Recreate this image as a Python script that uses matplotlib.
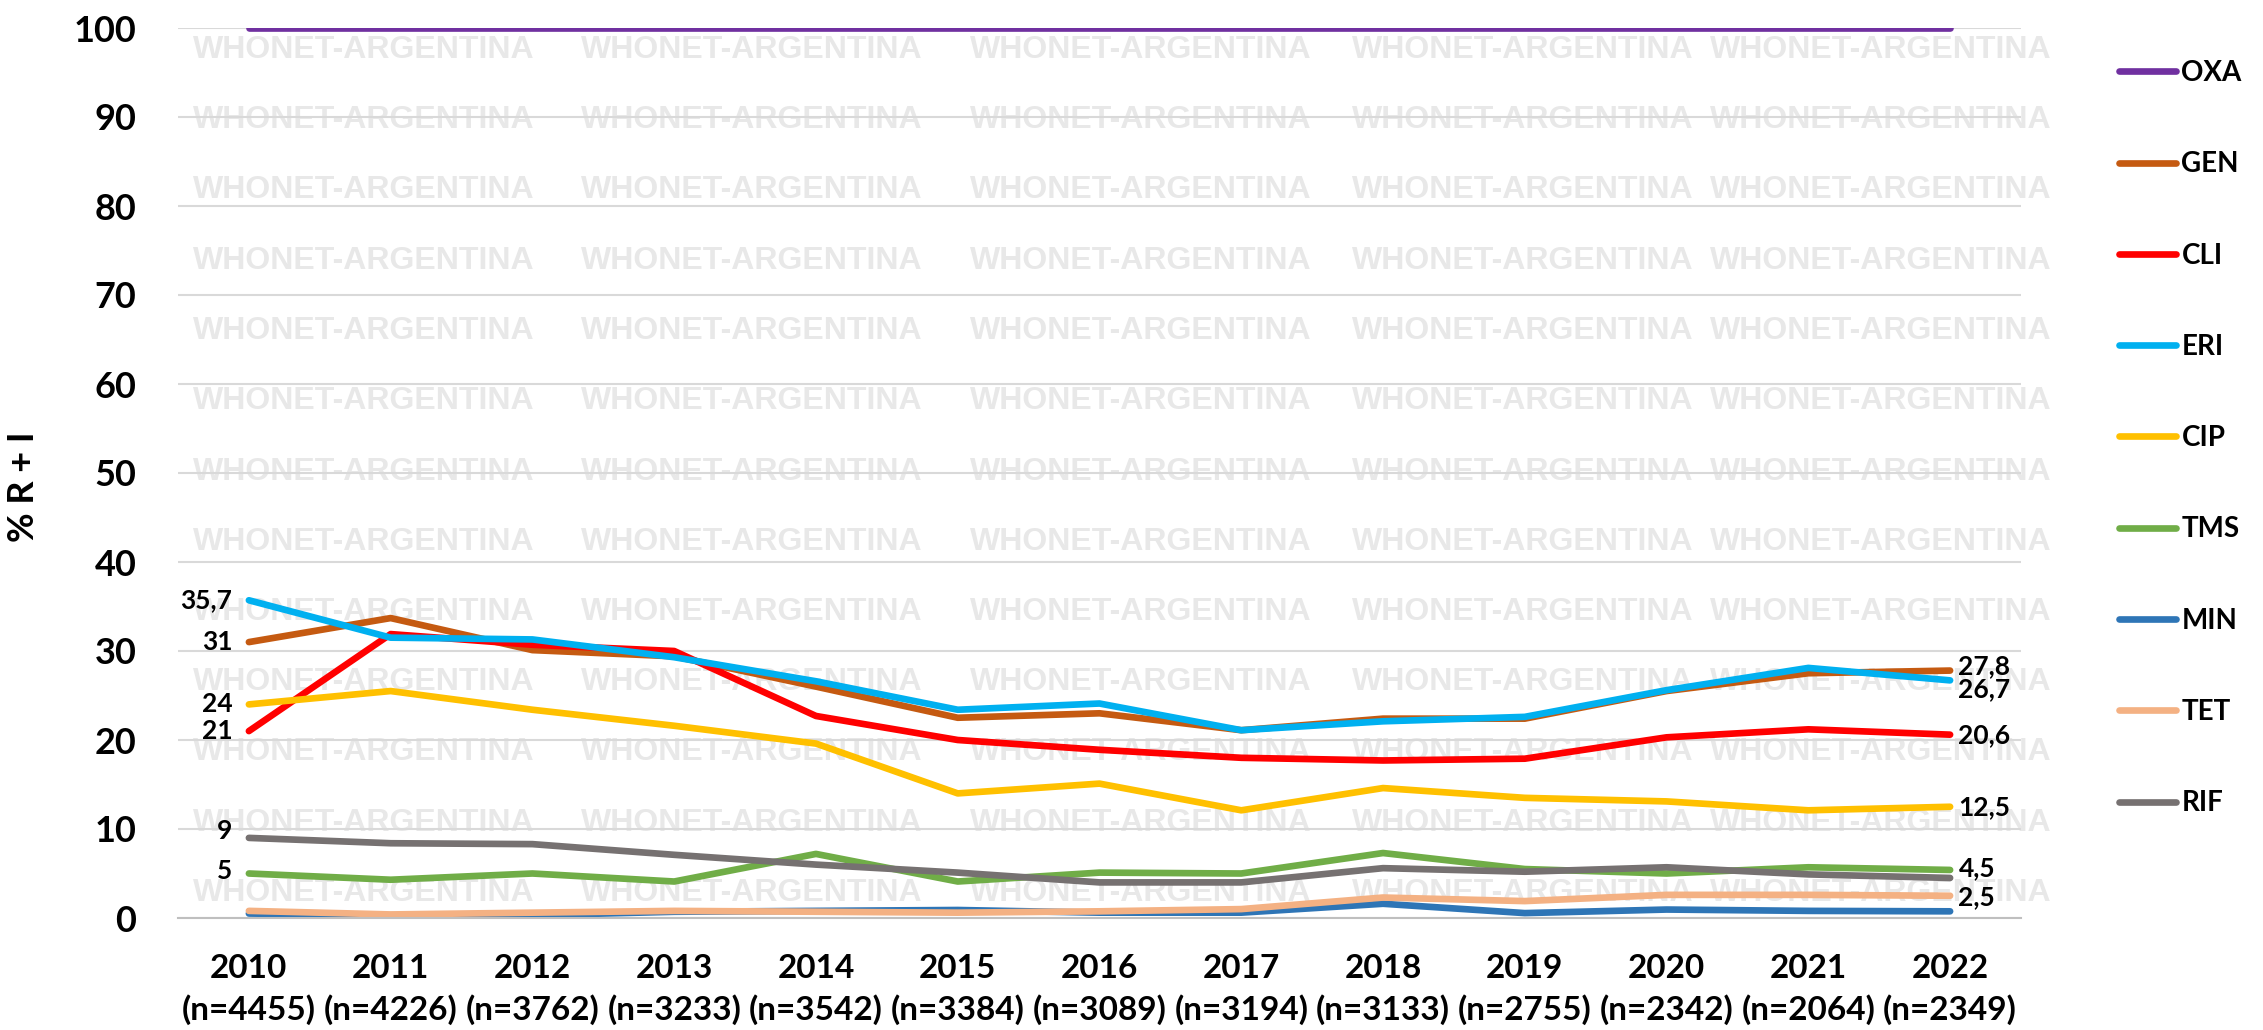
import matplotlib
matplotlib.use("Agg")
import matplotlib.pyplot as plt
import numpy as np

plt.rcParams['font.family'] = ['Lato', 'DejaVu Sans']

# datos
years = ['2010', '2011', '2012', '2013', '2014', '2015', '2016',
         '2017', '2018', '2019', '2020', '2021', '2022']
n_vals = [4455, 4226, 3762, 3233, 3542, 3384, 3089, 3194, 3133, 2755, 2342, 2064, 2349]

oxa = [100, 100, 100, 100, 100, 100, 100, 100, 100, 100, 100, 100, 100]
gen = [31.0, 33.7, 30.1, 29.4, 26.0, 22.5, 23.0, 21.1, 22.4, 22.4, 25.5, 27.5, 27.8]
cli = [21.0, 31.9, 30.7, 30.0, 22.7, 20.0, 18.9, 18.0, 17.7, 17.9, 20.3, 21.2, 20.6]
eri = [35.7, 31.5, 31.3, 29.3, 26.6, 23.4, 24.1, 21.1, 22.1, 22.6, 25.6, 28.1, 26.7]
cip = [24.0, 25.5, 23.4, 21.6, 19.6, 14.0, 15.1, 12.1, 14.6, 13.5, 13.1, 12.1, 12.5]
tms = [5.0, 4.3, 5.0, 4.1, 7.2, 4.1, 5.1, 5.0, 7.3, 5.5, 5.0, 5.7, 5.4]
mino = [0.5, 0.3, 0.3, 0.7, 0.8, 0.9, 0.6, 0.6, 1.6, 0.55, 0.95, 0.8, 0.75]
tet = [0.8, 0.4, 0.6, 0.8, 0.7, 0.6, 0.75, 1.0, 2.3, 1.9, 2.6, 2.6, 2.5]
rif = [9.0, 8.4, 8.3, 7.1, 6.0, 5.1, 4.0, 4.0, 5.6, 5.2, 5.7, 4.9, 4.5]

series = [('OXA', oxa, '#7030A0'), ('GEN', gen, '#C55A11'), ('CLI', cli, '#FF0000'),
          ('ERI', eri, '#00B0F0'), ('CIP', cip, '#FFC000'), ('TMS', tms, '#70AD47'),
          ('MIN', mino, '#2E75B6'), ('TET', tet, '#F4B183'), ('RIF', rif, '#767171')]

# etiquetas: (serie, indice, dy en puntos)
first_labels = [('ERI', 0, 0), ('GEN', 0, 0), ('CIP', 0, 0), ('CLI', 0, 0),
                ('RIF', 0, 5), ('TMS', 0, 2)]
last_labels = [('GEN', 12, 3), ('ERI', 12, -6), ('CLI', 12, 0), ('CIP', 12, 0),
               ('RIF', 12, 7), ('TET', 12, -1)]

fig = plt.figure(figsize=(22.63, 10.30), dpi=100)
ax = fig.add_axes([178 / 2263, 1 - 918 / 1030, (2021 - 178) / 2263, (918 - 28) / 1030])
ax.patch.set_visible(False)

# marca de agua
wm_cols = [193, 581, 970, 1352, 1710]
for i in range(13):
    yy = 50 + i * 70.25
    for xx in wm_cols:
        fig.text(xx / 2263, 1 - yy / 1030, 'WHONET-ARGENTINA', fontsize=23,
                 fontweight='bold', family='Liberation Sans', color='#E8E8E8',
                 ha='left', va='center', zorder=-5)

x = np.arange(len(years))
data = {}
for name, vals, col in series:
    ax.plot(x, vals, color=col, lw=4.8, label=name,
            solid_capstyle='round', solid_joinstyle='round')
    data[name] = vals

def fmt(v):
    return ('%g' % v).replace('.', ',')

for name, i, dy in first_labels:
    v = data[name][i]
    ax.annotate(fmt(v), (x[i], v), xytext=(-12, dy), textcoords='offset points',
                ha='right', va='center', fontsize=19, fontweight='bold')
for name, i, dy in last_labels:
    v = data[name][i]
    ax.annotate(fmt(v), (x[i], v), xytext=(6, dy), textcoords='offset points',
                ha='left', va='center', fontsize=19, fontweight='bold')

ax.set_xlim(-0.5, len(years) - 0.5)
ax.set_ylim(0, 100)
ax.set_yticks(np.arange(0, 101, 10))
ax.set_xticks(x)
ax.set_xticklabels([f'{y}\n(n={n})' for y, n in zip(years, n_vals)],
                   fontsize=24, fontweight='bold', linespacing=1.42)
for lab in ax.get_yticklabels():
    lab.set_fontsize(26)
    lab.set_fontweight('bold')
ax.tick_params(axis='y', length=0, pad=30)
ax.tick_params(axis='x', length=0, pad=26)
ax.yaxis.grid(True, color='#D9D9D9', lw=1.5)
ax.set_axisbelow(True)
for s in ['top', 'right', 'left']:
    ax.spines[s].set_visible(False)
ax.spines['bottom'].set_color('#BFBFBF')
ax.spines['bottom'].set_linewidth(1.5)

ax.set_ylabel('% R + I', fontsize=26, fontweight='bold')
ax.yaxis.set_label_coords(-138 / 1843, (918 - 487) / 890)

ax.legend(loc='upper left', bbox_to_anchor=(2119 / 2263, 1 - 60 / 1030),
          bbox_transform=fig.transFigure, frameon=False, borderpad=0,
          borderaxespad=0, handlelength=2.05, handletextpad=0.2,
          labelspacing=2.35, prop={'size': 20, 'weight': 'bold'})

fig.savefig('out.png', dpi=100)
